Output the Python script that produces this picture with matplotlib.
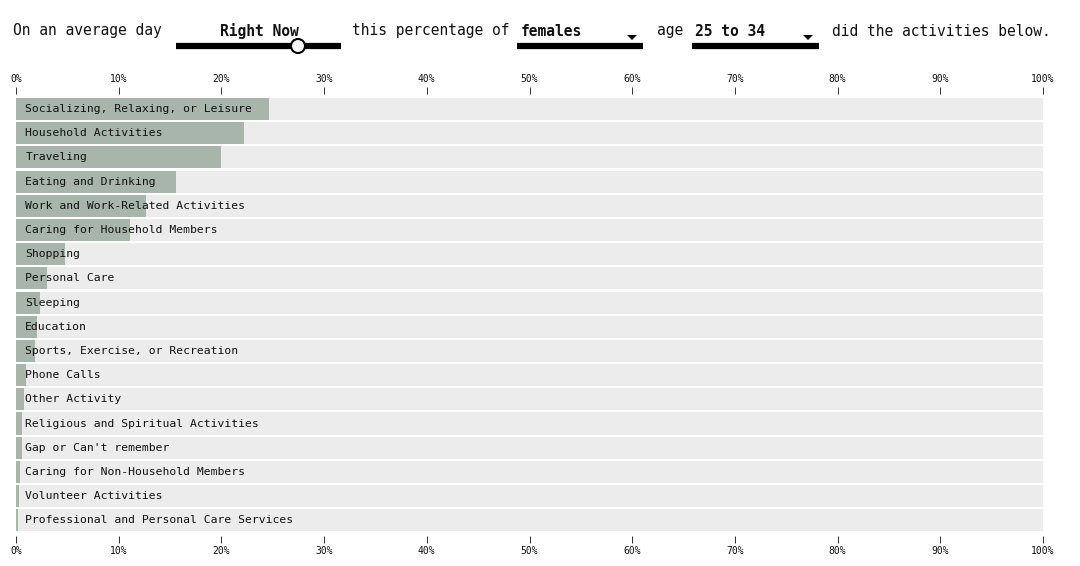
import matplotlib
matplotlib.use("Agg")
import matplotlib.pyplot as plt
import matplotlib.patches as mpatches
import numpy as np

activities = [
    "Socializing, Relaxing, or Leisure",
    "Household Activities",
    "Traveling",
    "Eating and Drinking",
    "Work and Work-Related Activities",
    "Caring for Household Members",
    "Shopping",
    "Personal Care",
    "Sleeping",
    "Education",
    "Sports, Exercise, or Recreation",
    "Phone Calls",
    "Other Activity",
    "Religious and Spiritual Activities",
    "Gap or Can't remember",
    "Caring for Non-Household Members",
    "Volunteer Activities",
    "Professional and Personal Care Services",
]
percent = [24.6, 22.2, 20.0, 15.6, 12.7, 11.1, 4.8, 3.0, 2.3, 2.0, 1.85,
           0.95, 0.8, 0.6, 0.6, 0.4, 0.25, 0.2]
ticks = np.arange(0, 101, 10)
tick_labels = [f"{t}%" for t in ticks]

FONT = "DejaVu Sans Mono"
INK = "#111111"
BAR = "#a8b5aa"
BG = "#ececec"

W, H = 1080, 566
fig = plt.figure(figsize=(W / 100, H / 100), dpi=100)
fig.patch.set_facecolor("white")

# main chart, placed in pixel terms
left, right, top, bottom = 16, 1043, 94, 536
ax = fig.add_axes([left / W, (H - bottom) / H, (right - left) / W, (bottom - top) / H])
y = np.arange(len(activities))
ax.barh(y, [100] * len(y), height=0.91, color=BG, linewidth=0)
ax.barh(y, percent, height=0.91, color=BAR, linewidth=0)
for yi, name in zip(y, activities):
    ax.text(0.9, yi, name, va="center", ha="left", fontsize=8.2, family=FONT, color=INK)

ax.set_xlim(0, 100)
ax.set_ylim(len(y) - 0.35, -0.62)
ax.set_yticks([])
ax.set_xticks(ticks)
ax.set_xticklabels(tick_labels, family=FONT, fontsize=7, color=INK)
ax.xaxis.set_ticks_position("both")
ax.tick_params(axis="x", labeltop=True, labelbottom=True, length=5, width=0.7,
               color="#333333", pad=2.5)
for spine in ax.spines.values():
    spine.set_visible(False)

# header overlay in pixel coordinates
hx = fig.add_axes([0, 0, 1, 1], zorder=5)
hx.set_xlim(0, W)
hx.set_ylim(H, 0)
hx.axis("off")
hx.patch.set_alpha(0)

ty = 31
kw = dict(family=FONT, fontsize=10.5, color=INK, va="center")
hx.text(13, ty, "On an average day", **kw)
hx.text(259, ty, "Right Now", ha="center", fontweight="bold", **kw)
hx.text(352, ty, "this percentage of", **kw)
hx.text(521, ty, "females", fontweight="bold", **kw)
hx.text(657, ty, "age", **kw)
hx.text(695, ty, "25 to 34", fontweight="bold", **kw)
hx.text(832, ty, "did the activities below.", **kw)

# slider
hx.plot([176, 341], [46, 46], color="black", linewidth=4.5, solid_capstyle="butt")
hx.add_patch(mpatches.Circle((298, 46), 7, facecolor="white", edgecolor="black", linewidth=1.5, zorder=6))

# dropdowns
for x0, x1 in [(517, 643), (692, 819)]:
    hx.plot([x0, x1], [46, 46], color="black", linewidth=4.5, solid_capstyle="butt")
    tx = x1 - 11
    hx.add_patch(mpatches.Polygon([[tx - 5, 35], [tx + 5, 35], [tx, 40]], closed=True,
                                  facecolor="black", edgecolor="none"))

fig.savefig("out.png", dpi=100)
